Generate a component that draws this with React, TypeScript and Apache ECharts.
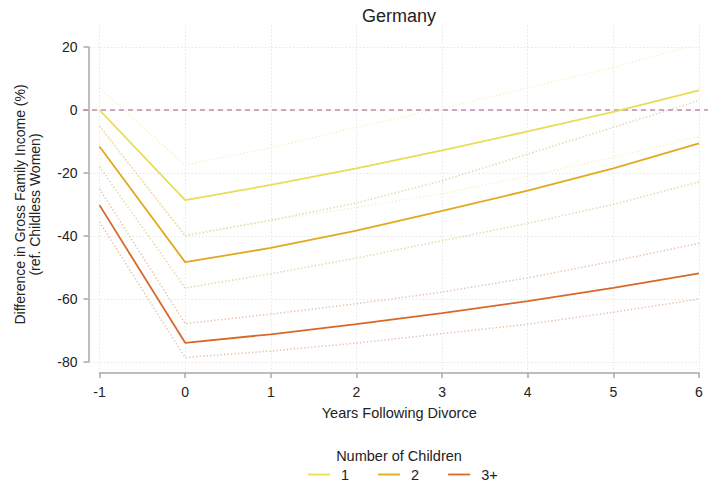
import React, { useEffect, useRef } from "react";
import * as echarts from "echarts";

const years = [-1, 0, 1, 2, 3, 4, 5, 6];
const xTicks = [-1, 0, 1, 2, 3, 4, 5, 6];
const yTicks = [-80, -60, -40, -20, 0, 20];

const mean1 = [0, -28.6, -23.8, -18.5, -12.8, -6.8, -0.6, 6.2];
const upper1 = [7, -17.5, -12, -5.5, 0.5, 7, 13.5, 21];
const lower1 = [-5.5, -39.5, -35, -31, -26.5, -21, -15, -8.5];

const mean2 = [-11.6, -48.3, -43.8, -38.3, -32, -25.6, -18.5, -10.6];
const upper2 = [-5, -40, -35, -29.5, -22.5, -14, -5.5, 3];
const lower2 = [-18, -56.5, -52, -47, -41.5, -36, -30, -22.8];

const mean3 = [-30.2, -73.9, -71.2, -68, -64.5, -60.7, -56.5, -51.9];
const upper3 = [-25, -67.8, -64.8, -61.5, -57.8, -53.3, -48, -42.3];
const lower3 = [-35.5, -78.6, -76.5, -74, -71, -68, -64.2, -60];

const groupNames = ["1", "2", "3+"];
const refLine = [0, 0];

const FONT = "'Liberation Sans', Arial, sans-serif";
const TXT = "#222222";

export default function App() {
  const ref = useRef<HTMLDivElement>(null);
  useEffect(() => {
    if (!ref.current) return;
    const chart = echarts.init(ref.current, null, { renderer: "svg" });
    const pts = (vals: number[]) => years.map((x, i) => [x, vals[i]]);
    const colors = ["#e8dd55", "#e2a91c", "#d8682a"];
    const ciColors = ["#f6f1c6", "#e4d3a4", "#e8bfa6"];
    const means = [mean1, mean2, mean3];
    const uppers = [upper1, upper2, upper3];
    const lowers = [lower1, lower2, lower3];
    const ciSeries: any[] = [];
    const meanSeries: any[] = [];
    for (let g = 0; g < 3; g++) {
      [uppers[g], lowers[g]].forEach((vals, k) => {
        ciSeries.push({
          name: groupNames[g] + (k === 0 ? " upper" : " lower"),
          type: "line",
          xAxisIndex: 0,
          yAxisIndex: 0,
          data: pts(vals),
          showSymbol: false,
          symbol: "none",
          silent: true,
          lineStyle: { color: ciColors[g], width: 1.5, type: [1.3, 2.2] },
          z: 2,
        });
      });
      meanSeries.push({
        name: groupNames[g],
        type: "line",
        xAxisIndex: 0,
        yAxisIndex: 0,
        data: pts(means[g]),
        showSymbol: false,
        symbol: "none",
        color: colors[g],
        lineStyle: { color: colors[g], width: 1.8 },
        z: 4,
      });
    }

    const axisLineStyle = { color: "#a8a8a8", width: 1.5 };

    const option: any = {
      animation: false,
      backgroundColor: "#ffffff",
      textStyle: { fontFamily: FONT },
      title: [
        {
          text: "Germany",
          left: 399,
          top: 7,
          textAlign: "center",
          padding: 0,
          textStyle: { fontFamily: FONT, fontSize: 18, fontWeight: "normal", color: TXT },
        },
        {
          text: "Number of Children",
          left: 399,
          top: 448,
          textAlign: "center",
          padding: 0,
          textStyle: { fontFamily: FONT, fontSize: 14.5, fontWeight: "normal", color: TXT },
        },
      ],
      legend: {
        data: groupNames,
        left: 308,
        top: 467,
        padding: 0,
        icon: "rect",
        itemWidth: 22,
        itemHeight: 1.8,
        itemGap: 29,
        textStyle: { fontFamily: FONT, fontSize: 14.5, color: TXT, padding: [0, 0, 0, 6] },
      },
      grid: [
        { left: 99.5, right: 9, top: 47, bottom: 126 },
        { left: 99.5, right: 9, top: 25, bottom: 116 },
        { left: 90, right: 8, top: 47, bottom: 126 },
        { left: 83, right: 0, top: 47, bottom: 126 },
      ],
      xAxis: [
        {
          gridIndex: 0,
          type: "value",
          min: xTicks[0],
          max: xTicks[xTicks.length - 1],
          interval: 1,
          offset: 11,
          name: "Years Following Divorce",
          nameLocation: "middle",
          nameGap: 32,
          nameTextStyle: { fontFamily: FONT, fontSize: 14.5, color: TXT },
          axisLine: { show: true, onZero: false, lineStyle: axisLineStyle },
          axisTick: { show: true, length: 5, lineStyle: axisLineStyle },
          axisLabel: { fontFamily: FONT, fontSize: 14, color: TXT, margin: 12 },
          splitLine: { show: false },
        },
        {
          gridIndex: 1,
          type: "value",
          min: xTicks[0],
          max: xTicks[xTicks.length - 1],
          interval: 1,
          axisLine: { show: false },
          axisTick: { show: false },
          axisLabel: { show: false },
          splitLine: { show: true, lineStyle: { color: "#e6e6e6", width: 1, type: [1.5, 2] } },
        },
        { gridIndex: 2, type: "value", min: 0, max: 1, show: false },
        { gridIndex: 3, type: "value", min: 0, max: 1, show: false },
      ],
      yAxis: [
        {
          gridIndex: 0,
          type: "value",
          min: yTicks[0],
          max: yTicks[yTicks.length - 1],
          interval: 20,
          offset: 11,
          name: "Difference in Gross Family Income (%)\n(ref. Childless Women)",
          nameLocation: "middle",
          nameGap: 46,
          nameTextStyle: { fontFamily: FONT, fontSize: 14, color: TXT, lineHeight: 15, align: "center" },
          axisLine: { show: true, onZero: false, lineStyle: axisLineStyle },
          axisTick: { show: true, length: 5, lineStyle: axisLineStyle },
          axisLabel: { fontFamily: FONT, fontSize: 14, color: TXT, margin: 11 },
          splitLine: { show: false },
        },
        { gridIndex: 1, type: "value", min: 0, max: 1, show: false, splitLine: { show: false } },
        {
          gridIndex: 2,
          type: "value",
          min: yTicks[0],
          max: yTicks[yTicks.length - 1],
          interval: 20,
          axisLine: { show: false },
          axisTick: { show: false },
          axisLabel: { show: false },
          splitLine: { show: true, lineStyle: { color: "#e6e6e6", width: 1, type: [1.5, 2] } },
        },
        {
          gridIndex: 3,
          type: "value",
          min: yTicks[0],
          max: yTicks[yTicks.length - 1],
          show: false,
          splitLine: { show: false },
        },
      ],
      series: [
        {
          name: "ref",
          type: "line",
          xAxisIndex: 3,
          yAxisIndex: 3,
          data: [[0, refLine[0]], [1, refLine[1]]],
          showSymbol: false,
          symbol: "none",
          silent: true,
          lineStyle: { color: "#bf8cae", width: 1.3, type: [5, 4] },
          z: 3,
        },
        ...ciSeries,
        ...meanSeries,
      ],
    };
    chart.setOption(option);
    return () => chart.dispose();
  }, []);
  return (
    <div
      ref={ref}
      style={{ position: "fixed", left: 0, top: 0, width: 708, height: 488 }}
    />
  );
}
